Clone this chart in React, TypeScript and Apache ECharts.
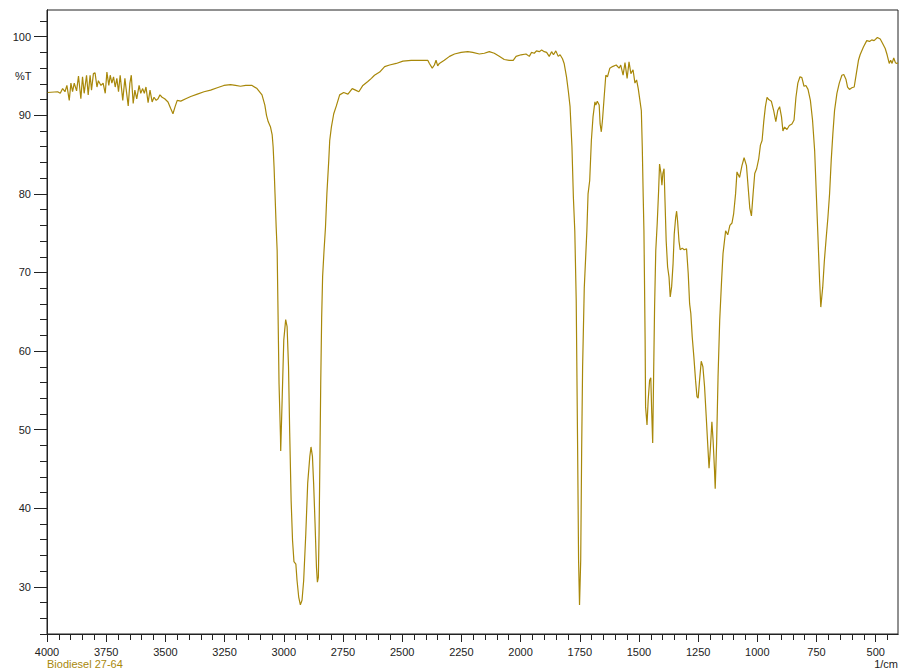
import React, { useEffect, useRef } from "react";
import * as echarts from "echarts";

// Wavenumber (1/cm) and transmittance (%T)
const WAVENUMBERS = [
  3997, 3955, 3944, 3934, 3924, 3916, 3906, 3899, 3892, 3885, 3875, 3867, 3857, 3850, 3843, 3833, 3826, 3818, 3812, 3804,
  3797, 3789, 3783, 3772, 3763, 3754, 3747, 3739, 3733, 3726, 3719, 3712, 3705, 3698, 3691, 3680, 3671, 3666, 3657, 3650,
  3644, 3636, 3629, 3621, 3611, 3604, 3596, 3589, 3582, 3573, 3565, 3556, 3548, 3539, 3531, 3523, 3514, 3503, 3489, 3478,
  3468, 3459, 3450, 3435, 3414, 3393, 3365, 3337, 3309, 3281, 3253, 3225, 3204, 3183, 3161, 3134, 3113, 3092,
  3080, 3073, 3066, 3056, 3049, 3045, 3041, 3037, 3032, 3028, 3025, 3020, 3014, 3013, 3007, 3000, 2992, 2986, 2980, 2975,
  2969, 2963, 2957, 2949, 2944, 2937, 2930, 2923, 2916, 2907, 2899, 2890, 2885, 2879, 2874, 2868, 2862, 2858, 2854, 2851,
  2847, 2844, 2840, 2836, 2830, 2824, 2818, 2810, 2806, 2799, 2789, 2778, 2764, 2747, 2729, 2711, 2697, 2683, 2666, 2645,
  2630, 2617, 2595, 2574, 2553, 2525, 2497, 2462, 2427, 2392, 2385, 2373, 2364, 2357, 2350, 2343, 2322, 2300, 2279, 2251,
  2223, 2202, 2174, 2153, 2132, 2111, 2090, 2069, 2048, 2031, 2019, 1998, 1977, 1963, 1954, 1942, 1933, 1921, 1911, 1900,
  1890, 1879, 1869, 1861, 1851, 1841, 1833, 1823, 1816, 1806, 1798, 1791, 1783, 1777, 1771, 1765, 1759, 1755, 1751, 1746,
  1742, 1738, 1731, 1720, 1715, 1708, 1701, 1694, 1686, 1682, 1676, 1668, 1664, 1659, 1654, 1647, 1640, 1633, 1623, 1612,
  1596, 1584, 1577, 1567, 1559, 1550, 1542, 1534, 1525, 1517, 1510, 1503, 1496, 1490, 1486, 1482, 1479, 1477, 1474, 1472,
  1466, 1461, 1455, 1450, 1446, 1442, 1438, 1434, 1429, 1423, 1417, 1413, 1407, 1403, 1399, 1394, 1390, 1385, 1379, 1373,
  1368, 1362, 1356, 1351, 1345, 1341, 1337, 1331, 1326, 1317, 1309, 1299, 1292, 1286, 1281, 1275, 1268, 1261, 1255, 1250,
  1244, 1237, 1230, 1223, 1216, 1209, 1204, 1198, 1192, 1187, 1181, 1178, 1172, 1166, 1159, 1151, 1145, 1134, 1125, 1116,
  1107, 1100, 1092, 1086, 1075, 1065, 1056, 1046, 1039, 1032, 1025, 1018, 1011, 1003, 994, 987, 980, 973, 966, 959,
  952, 941, 931, 922, 914, 906, 898, 892, 885, 875, 865, 854, 845, 837, 829, 820, 812, 803, 795, 786,
  776, 767, 758, 751, 744, 737, 732, 724, 717, 709, 702, 695, 688, 681, 674, 664, 654, 643, 635, 626,
  619, 611, 601, 591, 582, 573, 566, 552, 538, 526, 517, 507, 493, 481, 472, 460, 452, 443, 437, 431,
  424, 417, 411, 406,
];

const TRANSMITTANCE = [
  92.9, 93.0, 92.8, 93.4, 93.0, 93.8, 91.9, 94.1, 93.0, 94.1, 93.1, 95.0, 92.1, 94.9, 92.8, 95.1, 92.6, 95.1, 93.2, 95.3,
  95.4, 93.6, 94.4, 93.8, 94.1, 92.8, 95.5, 93.8, 95.1, 94.1, 94.9, 93.6, 94.7, 93.0, 95.1, 91.9, 94.7, 93.4, 91.2, 94.1,
  95.1, 91.5, 93.2, 92.1, 93.8, 92.8, 93.4, 92.8, 93.6, 91.6, 93.2, 91.7, 92.3, 91.9, 92.1, 92.6, 92.3, 92.1, 91.7, 90.9,
  90.2, 91.1, 91.9, 91.8, 92.1, 92.4, 92.7, 93.0, 93.2, 93.5, 93.8, 93.9, 93.8, 93.7, 93.8, 93.8, 93.4, 92.6,
  91.3, 90.0, 89.2, 88.5, 87.5, 86.0, 83.4, 80.0, 75.7, 72.8, 66.4, 55.8, 49.1, 47.3, 53.7, 61.4, 64.0, 63.1, 58.0, 49.6,
  41.0, 35.9, 33.2, 32.9, 30.8, 28.7, 27.7, 28.3, 30.8, 36.8, 43.2, 46.6, 47.8, 46.6, 43.2, 38.1, 32.5, 30.6, 31.2, 36.8,
  47.4, 55.8, 64.3, 69.5, 72.8, 75.7, 80.0, 84.3, 86.8, 88.5, 90.2, 91.2, 92.6, 92.9, 92.7, 93.4, 93.2, 93.0, 93.8, 94.3,
  94.7, 95.1, 95.5, 96.2, 96.4, 96.6, 96.9, 97.0, 97.0, 97.0, 96.6, 96.0, 96.4, 97.0, 96.3, 96.6, 97.0, 97.5, 97.8, 98.0,
  98.1, 98.0, 97.8, 97.9, 98.1, 97.9, 97.5, 97.1, 97.0, 97.0, 97.5, 97.7, 97.8, 97.5, 98.0, 97.9, 98.2, 98.1, 98.3, 98.1,
  98.0, 97.5, 98.1, 97.7, 98.2, 97.5, 97.7, 97.2, 96.6, 94.9, 93.0, 91.1, 86.0, 79.6, 75.3, 66.5, 47.4, 33.4, 27.7, 33.4,
  47.4, 58.0, 68.0, 75.3, 80.0, 81.7, 86.8, 89.8, 91.7, 91.3, 91.8, 91.3, 88.9, 87.9, 89.4, 92.3, 95.1, 94.9, 96.0, 96.2,
  96.4, 96.0, 96.4, 95.1, 96.7, 94.7, 96.8, 95.3, 95.8, 94.1, 94.5, 93.4, 91.9, 90.6, 86.0, 79.6, 75.3, 69.9, 61.4, 52.9,
  50.6, 53.8, 56.3, 56.6, 52.1, 48.3, 57.1, 65.6, 72.8, 76.2, 80.4, 83.8, 82.6, 81.1, 82.6, 83.2, 79.1, 74.0, 70.7, 69.4,
  66.9, 68.2, 71.1, 74.9, 77.0, 77.8, 76.6, 74.0, 72.9, 73.1, 72.9, 73.0, 69.9, 66.0, 64.8, 61.8, 59.2, 56.3, 54.2, 54.0,
  56.3, 58.7, 58.0, 55.5, 51.7, 47.8, 45.1, 47.8, 51.0, 48.7, 44.9, 42.5, 48.3, 56.7, 63.9, 69.0, 72.4, 75.3, 74.8, 76.0,
  76.3, 77.5, 80.0, 82.8, 82.1, 83.6, 84.6, 83.6, 80.9, 78.2, 77.2, 80.0, 82.6, 83.2, 84.5, 86.2, 86.8, 89.2, 91.1, 92.3,
  92.0, 91.8, 90.6, 89.2, 90.6, 91.1, 89.8, 88.0, 88.5, 88.2, 88.7, 88.9, 89.4, 92.3, 94.1, 94.9, 94.8, 93.7, 93.8, 93.3,
  91.9, 89.4, 85.5, 80.0, 74.5, 68.9, 65.6, 68.1, 71.5, 74.5, 77.0, 80.0, 84.3, 87.7, 90.6, 92.8, 94.1, 95.1, 95.2, 94.6,
  93.6, 93.3, 93.5, 93.6, 95.3, 97.0, 97.7, 98.7, 99.5, 99.4, 99.6, 99.5, 99.9, 99.7, 99.2, 98.5, 97.7, 96.6, 97.0, 96.6,
  97.3, 96.7, 96.6, 96.7,
];

const X_MAJOR_TICKS = [4000, 3750, 3500, 3250, 3000, 2750, 2500, 2250, 2000, 1750, 1500, 1250, 1000, 750, 500];
const X_MINOR_TICKS = [
  4000, 3950, 3900, 3850, 3800, 3750, 3700, 3650, 3600, 3550, 3500, 3450, 3400, 3350, 3300, 3250, 3200, 3150, 3100,
  3050, 3000, 2950, 2900, 2850, 2800, 2750, 2700, 2650, 2600, 2550, 2500, 2450, 2400, 2350, 2300, 2250, 2200, 2150,
  2100, 2050, 2000, 1950, 1900, 1850, 1800, 1750, 1700, 1650, 1600, 1550, 1500, 1450, 1400, 1350, 1300, 1250, 1200,
  1150, 1100, 1050, 1000, 950, 900, 850, 800, 750, 700, 650, 600, 550, 500, 450,
];
const Y_MAJOR_TICKS = [30, 40, 50, 60, 70, 80, 90, 100];
const Y_MINOR_TICKS = [
  24, 26, 28, 30, 32, 34, 36, 38, 40, 42, 44, 46, 48, 50, 52, 54, 56, 58, 60, 62, 64, 66, 68, 70, 72, 74, 76, 78, 80,
  82, 84, 86, 88, 90, 92, 94, 96, 98, 100, 102,
];

const X_MIN = 406;
const X_MAX = 4000;
const Y_MIN = 24;
const Y_MAX = 103.4;

const LINE_COLOR = "#A8880A";
const AXIS_COLOR = "#222222";
const FONT = "'Liberation Sans', Arial, sans-serif";

export default function App() {
  const ref = useRef<HTMLDivElement>(null);

  useEffect(() => {
    if (!ref.current) return;
    const chart = echarts.init(ref.current, undefined, { renderer: "svg" });
    const data = WAVENUMBERS.map((w, i) => [w, TRANSMITTANCE[i]]);
    const plain = (v: number) => String(v);

    chart.setOption({
      animation: false,
      backgroundColor: "#ffffff",
      grid: {
        left: 47,
        right: 8,
        top: 10,
        bottom: 38,
        show: true,
        borderColor: AXIS_COLOR,
        borderWidth: 1,
        backgroundColor: "transparent",
      },
      xAxis: [
        {
          type: "value",
          min: X_MIN,
          max: X_MAX,
          inverse: true,
          position: "bottom",
          axisLine: { show: true, lineStyle: { color: AXIS_COLOR, width: 1 } },
          axisTick: { show: true, length: 8, customValues: X_MAJOR_TICKS, lineStyle: { color: AXIS_COLOR } },
          axisLabel: {
            customValues: X_MAJOR_TICKS,
            formatter: plain,
            margin: 12,
            color: AXIS_COLOR,
            fontSize: 11,
            fontFamily: FONT,
          },
          splitLine: { show: false },
        },
        {
          type: "value",
          min: X_MIN,
          max: X_MAX,
          inverse: true,
          position: "bottom",
          offset: 0,
          axisLine: { show: true, lineStyle: { color: AXIS_COLOR, width: 1 } },
          axisTick: { show: true, length: 6, customValues: X_MINOR_TICKS, lineStyle: { color: AXIS_COLOR } },
          axisLabel: { show: true, customValues: X_MINOR_TICKS, formatter: () => "" },
          splitLine: { show: false },
        },
      ],
      yAxis: [
        {
          type: "value",
          min: Y_MIN,
          max: Y_MAX,
          position: "left",
          axisLine: { show: true, lineStyle: { color: AXIS_COLOR, width: 1 } },
          axisTick: { show: true, length: 13, customValues: Y_MAJOR_TICKS, lineStyle: { color: AXIS_COLOR } },
          axisLabel: {
            customValues: Y_MAJOR_TICKS,
            formatter: plain,
            margin: 16,
            color: AXIS_COLOR,
            fontSize: 11,
            fontFamily: FONT,
          },
          splitLine: { show: false },
        },
        {
          type: "value",
          min: Y_MIN,
          max: Y_MAX,
          position: "left",
          offset: 0,
          axisLine: { show: true, lineStyle: { color: AXIS_COLOR, width: 1 } },
          axisTick: { show: true, length: 7, customValues: Y_MINOR_TICKS, lineStyle: { color: AXIS_COLOR } },
          axisLabel: { show: true, customValues: Y_MINOR_TICKS, formatter: () => "" },
          splitLine: { show: false },
        },
      ],
      graphic: [
        {
          type: "text",
          left: 15,
          top: 70,
          style: { text: "%T", fill: AXIS_COLOR, fontSize: 11, fontFamily: FONT },
        },
        {
          type: "text",
          left: 47,
          top: 658,
          style: { text: "Biodiesel 27-64", fill: LINE_COLOR, fontSize: 11, fontFamily: FONT },
        },
        {
          type: "text",
          right: 8,
          top: 658,
          style: { text: "1/cm", fill: AXIS_COLOR, fontSize: 11, fontFamily: FONT },
        },
      ],
      series: [
        {
          type: "line",
          xAxisIndex: 0,
          yAxisIndex: 0,
          data,
          showSymbol: false,
          symbol: "none",
          smooth: false,
          lineStyle: { color: LINE_COLOR, width: 1.2 },
          silent: true,
        },
      ],
    });

    return () => chart.dispose();
  }, []);

  return (
    <div
      ref={ref}
      style={{ position: "fixed", left: 0, top: 0, width: 906, height: 672, background: "#fff" }}
    />
  );
}
